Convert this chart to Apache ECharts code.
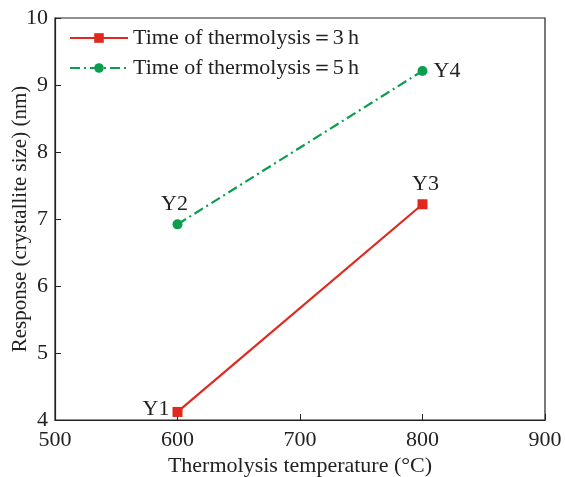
<!DOCTYPE html>
<html><head><meta charset="utf-8">
<script src="https://cdn.jsdelivr.net/npm/echarts@6/dist/echarts.min.js"></script>
<style>html,body{margin:0;padding:0;background:#fff}#c{width:565px;height:477px}</style>
</head><body><div id="c"></div>
<script>
const temps = [600, 800];
const series3h = [4.12, 7.22];
const series5h = [6.92, 9.21];
const labels3h = ['Y1', 'Y3'];
const labels5h = ['Y2', 'Y4'];
const seriesNames = ['Time of thermolysis\uFF1D3\u2009h', 'Time of thermolysis\uFF1D5\u2009h'];
const FONT = 'Liberation Serif';

const chart = echarts.init(document.getElementById('c'), null, {renderer: 'canvas'});
chart.setOption({
  animation: false,
  textStyle: {fontFamily: FONT},
  grid: {left: 55, right: 20, top: 18, bottom: 57, outerBoundsMode: 'none', containLabel: false, show: true, borderColor: '#222', borderWidth: 1.2},
  legend: {
    left: 64, top: 22, orient: 'vertical', itemGap: 8, itemWidth: 58, itemHeight: 12,
    textStyle: {fontFamily: FONT, fontSize: 22, color: '#222'},
    data: seriesNames
  },
  xAxis: {
    type: 'value', min: 500, max: 900, interval: 100,
    name: 'Thermolysis temperature (\u00B0C)', nameLocation: 'middle', nameGap: 35, nameMoveOverlap: false,
    nameTextStyle: {fontFamily: FONT, fontSize: 22, color: '#222'},
    axisLine: {lineStyle: {color: '#222', width: 1.2}},
    axisTick: {inside: true, length: 6, lineStyle: {color: '#222'}},
    axisLabel: {fontFamily: FONT, fontSize: 22, color: '#222', margin: 9},
    splitLine: {show: false}
  },
  yAxis: {
    type: 'value', min: 4, max: 10, interval: 1,
    name: 'Response (crystallite size) (nm)', nameLocation: 'middle', nameGap: 24, nameMoveOverlap: false,
    nameTextStyle: {fontFamily: FONT, fontSize: 21, color: '#222'},
    axisLine: {lineStyle: {color: '#222', width: 1.2}},
    axisTick: {inside: true, length: 6, lineStyle: {color: '#222'}},
    axisLabel: {fontFamily: FONT, fontSize: 22, color: '#222', margin: 7},
    splitLine: {show: false}
  },
  series: [
    {
      name: seriesNames[0], type: 'line', symbol: 'rect', symbolSize: 10,
      itemStyle: {color: '#e0281e'}, lineStyle: {color: '#e0281e', width: 2.2},
      label: {fontFamily: FONT, fontSize: 22, color: '#222', distance: 6},
      data: [
        {value: [temps[0], series3h[0]], label: {show: true, formatter: labels3h[0], position: 'left', offset: [3, -3]}},
        {value: [temps[1], series3h[1]], label: {show: true, formatter: labels3h[1], position: 'top', offset: [3, 2]}}
      ]
    },
    {
      name: seriesNames[1], type: 'line', symbol: 'circle', symbolSize: 10,
      itemStyle: {color: '#0a9e4e'}, lineStyle: {color: '#0a9e4e', width: 2.2, type: [10, 4, 2, 4]},
      label: {fontFamily: FONT, fontSize: 22, color: '#222', distance: 6},
      data: [
        {value: [temps[0], series5h[0]], label: {show: true, formatter: labels5h[0], position: 'top', offset: [-3, 2]}},
        {value: [temps[1], series5h[1]], label: {show: true, formatter: labels5h[1], position: 'right'}}
      ]
    }
  ]
});
</script></body></html>
